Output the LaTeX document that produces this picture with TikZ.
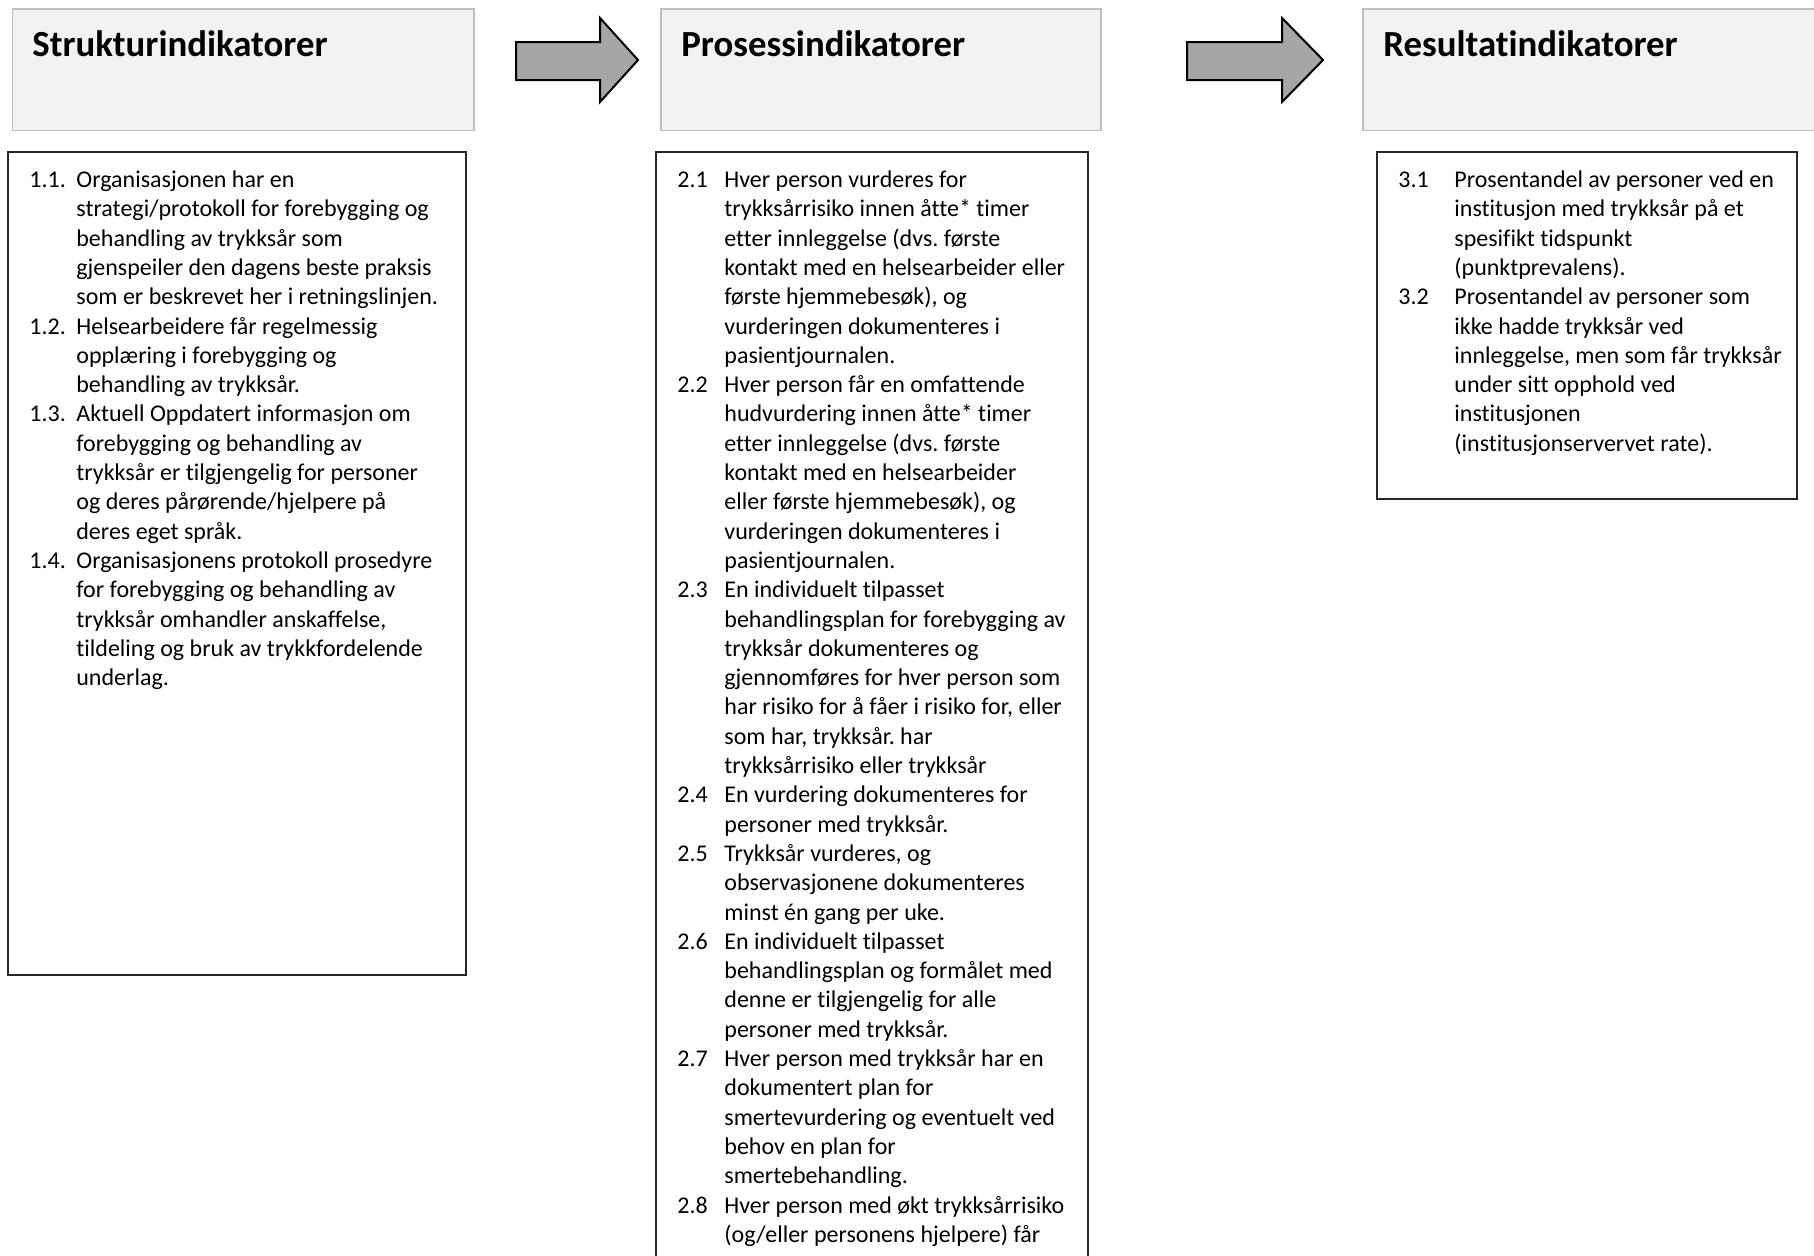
\documentclass[tikz,border=0pt]{standalone}
\usepackage{fontspec}
\setmainfont{Carlito}[Ligatures=CommonOff]
\frenchspacing
\begin{document}
\begin{tikzpicture}[x=0.5pt,y=-0.5pt]
\tikzset{
 headbox/.style={draw=black!25, fill=black!5, line width=0.6pt},
 blockarrow/.style={draw=black, fill=black!35, line width=1pt, line join=miter},
 listbox/.style={draw=black!85, line width=1pt},
 titletext/.style={anchor=base west, inner sep=0pt, font=\fontsize{18.4}{22}\selectfont\bfseries},
 listtext/.style={anchor=base west, inner sep=0pt, font=\fontsize{12}{14.65}\selectfont\frenchspacing},
}
\clip (0,0) rectangle (1814,1255);
\fill[white] (0,0) rectangle (1814,1255);

% header boxes
\draw[headbox] (12.5,9) rectangle (474,130.5);
\draw[headbox] (661,9) rectangle (1101,130.5);
\draw[headbox] (1363,9) rectangle (1830,130.5);
\node[titletext] (h1) at (32,56) {Strukturindikatorer};
\node[titletext] (h2) at (681,56) {Prosessindikatorer};
\node[titletext] (h3) at (1383,56) {Resultatindikatorer};

% block arrows
\draw[blockarrow] (516,42) -- (600,42) -- (600,18) -- (638,60) -- (600,102) -- (600,80) -- (516,80) -- cycle;
\draw[blockarrow] (1187,42) -- (1282,42) -- (1282,18) -- (1323,60) -- (1282,102) -- (1282,80) -- (1187,80) -- cycle;

% list boxes
\draw[listbox] (8,152) rectangle (466,975);
\draw[listbox] (656,152) rectangle (1088,1270);
\draw[listbox] (1377,152) rectangle (1797,499);

\node[listtext] (l1) at (29,187.5) {\begin{tabular}[t]{@{}p{23.5pt}@{}l@{}}
1.1. & Organisasjonen har en\\
 & strategi/protokoll for forebygging og\\
 & behandling av trykksår som\\
 & gjenspeiler den dagens beste praksis\\
 & som er beskrevet her i retningslinjen.\\
1.2. & Helsearbeidere får regelmessig\\
 & opplæring i forebygging og\\
 & behandling av trykksår.\\
1.3. & Aktuell Oppdatert informasjon om\\
 & forebygging og behandling av\\
 & trykksår er tilgjengelig for personer\\
 & og deres pårørende/hjelpere på\\
 & deres eget språk.\\
1.4. & Organisasjonens protokoll prosedyre\\
 & for forebygging og behandling av\\
 & trykksår omhandler anskaffelse,\\
 & tildeling og bruk av trykkfordelende\\
 & underlag.
\end{tabular}};

\node[listtext] (l2) at (677,187.5) {\begin{tabular}[t]{@{}p{23.5pt}@{}l@{}}
2.1 & Hver person vurderes for\\
 & trykksårrisiko innen åtte* timer\\
 & etter innleggelse (dvs. første\\
 & kontakt med en helsearbeider eller\\
 & første hjemmebesøk), og\\
 & vurderingen dokumenteres i\\
 & pasientjournalen.\\
2.2 & Hver person får en omfattende\\
 & hudvurdering innen åtte* timer\\
 & etter innleggelse (dvs. første\\
 & kontakt med en helsearbeider\\
 & eller første hjemmebesøk), og\\
 & vurderingen dokumenteres i\\
 & pasientjournalen.\\
2.3 & En individuelt tilpasset\\
 & behandlingsplan for forebygging av\\
 & trykksår dokumenteres og\\
 & gjennomføres for hver person som\\
 & har risiko for å fåer i risiko for, eller\\
 & som har, trykksår. har\\
 & trykksårrisiko eller trykksår\\
2.4 & En vurdering dokumenteres for\\
 & personer med trykksår.\\
2.5 & Trykksår vurderes, og\\
 & observasjonene dokumenteres\\
 & minst én gang per uke.\\
2.6 & En individuelt tilpasset\\
 & behandlingsplan og formålet med\\
 & denne er tilgjengelig for alle\\
 & personer med trykksår.\\
2.7 & Hver person med trykksår har en\\
 & dokumentert plan for\\
 & smertevurdering og eventuelt ved\\
 & behov en plan for\\
 & smertebehandling.\\
2.8 & Hver person med økt trykksårrisiko\\
 & (og/eller personens hjelpere) får
\end{tabular}};

\node[listtext] (l3) at (1398,187.5) {\begin{tabular}[t]{@{}p{28pt}@{}l@{}}
3.1 & Prosentandel av personer ved en\\
 & institusjon med trykksår på et\\
 & spesifikt tidspunkt\\
 & (punktprevalens).\\
3.2 & Prosentandel av personer som\\
 & ikke hadde trykksår ved\\
 & innleggelse, men som får trykksår\\
 & under sitt opphold ved\\
 & institusjonen\\
 & (institusjonservervet rate).
\end{tabular}};
\end{tikzpicture}
\end{document}
